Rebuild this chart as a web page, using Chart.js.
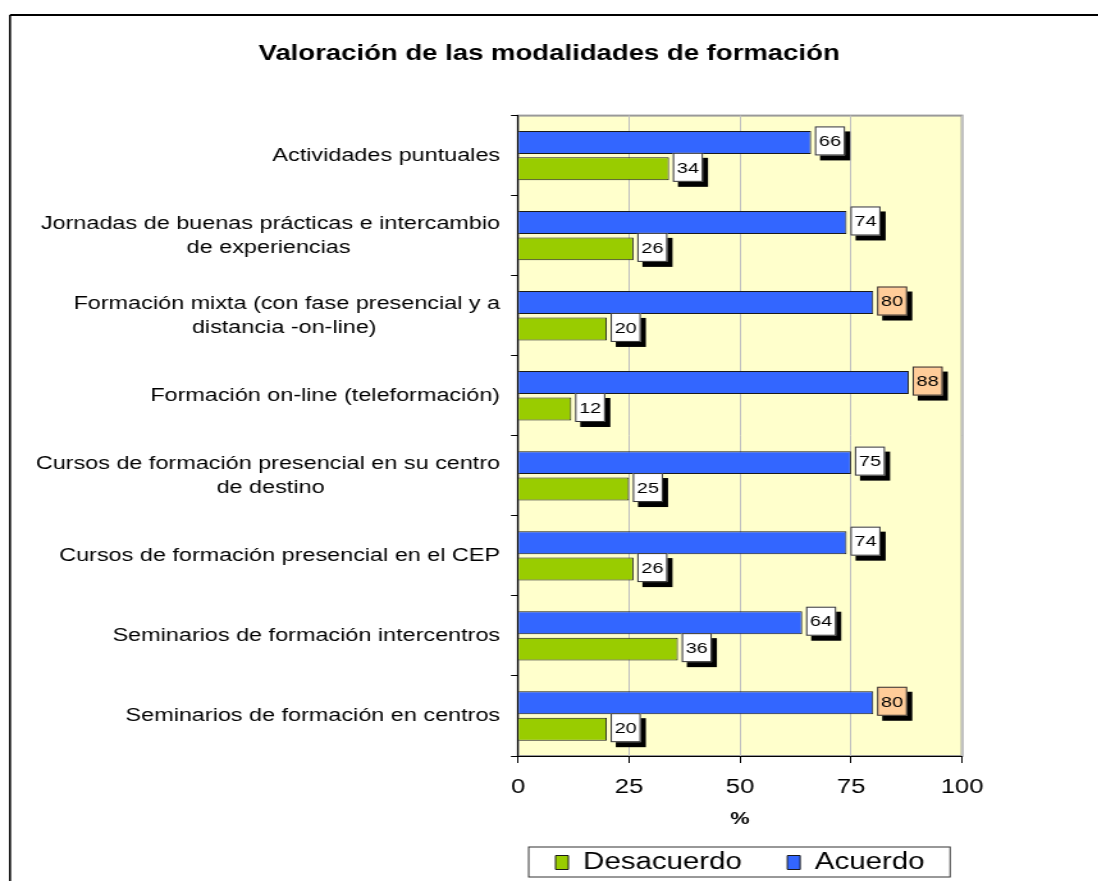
<!DOCTYPE html>
<html lang="es">
<head>
    <meta charset="UTF-8">
    <title>Valoración de las modalidades de formación</title>
    <script src="https://cdn.jsdelivr.net/npm/chart.js"></script>
    <style>
        html, body {
            margin: 0;
            background: #ffffff;
            overflow: hidden;
        }
        /* the original picture is stretched sideways, so the chart is drawn narrow and widened */
        .chart-wrap {
            position: absolute;
            left: 0;
            top: 0;
            width: 858px;
            height: 881px;
            transform: scaleX(1.28);
            transform-origin: 0 0;
        }
    </style>
</head>
<body>
    <div class="chart-wrap">
        <canvas id="modalidadesChart"></canvas>
    </div>

    <script>
        // Categories, top to bottom (each entry = lines of the label)
        const categories = [
            ['Actividades puntuales'],
            ['Jornadas de buenas prácticas e intercambio', 'de experiencias'],
            ['Formación mixta (con fase presencial y a', 'distancia -on-line)'],
            ['Formación on-line (teleformación)'],
            ['Cursos de formación presencial en su centro', 'de destino'],
            ['Cursos de formación presencial en el CEP'],
            ['Seminarios de formación intercentros'],
            ['Seminarios de formación en centros']
        ];
        const acuerdo = [66, 74, 80, 88, 75, 74, 64, 80];
        const desacuerdo = [34, 26, 20, 12, 25, 26, 36, 20];
        const xTicks = [0, 25, 50, 75, 100];

        const FONT = '"Liberation Sans", Arial, sans-serif';
        const LABEL_SIZE = 18.3;

        // centre shorter lines under the widest one (labels are right aligned as a block)
        const measure = document.createElement('canvas').getContext('2d');
        measure.font = LABEL_SIZE + 'px ' + FONT;
        const nbspW = measure.measureText('\u00A0').width;
        function centerLines(lines) {
            const widths = lines.map(l => measure.measureText(l).width);
            const max = Math.max(...widths);
            return lines.map((l, i) => l + '\u00A0'.repeat(Math.round((max - widths[i]) / 2 / nbspW)));
        }

        // page frame + yellow plot background
        const backgroundPlugin = {
            id: 'background',
            beforeDraw(chart) {
                const {ctx, chartArea: a} = chart;
                ctx.save();
                ctx.fillStyle = '#FFFFCC';
                ctx.fillRect(a.left, a.top, a.right - a.left, a.bottom - a.top);
                ctx.strokeStyle = '#999999';
                ctx.lineWidth = 2;
                ctx.strokeRect(a.left, a.top, a.right - a.left, a.bottom - a.top);
                ctx.strokeStyle = '#000000';
                ctx.lineWidth = 2;
                ctx.beginPath();
                ctx.moveTo(7.8, 15);
                ctx.lineTo(chart.width + 10, 15);
                ctx.stroke();
                ctx.lineWidth = 1.6;
                ctx.beginPath();
                ctx.moveTo(7.8, 15);
                ctx.lineTo(7.8, chart.height + 10);
                ctx.stroke();
                ctx.restore();
            }
        };

        // value boxes with drop shadow at the end of each bar
        const valueLabelPlugin = {
            id: 'valueLabels',
            afterDatasetsDraw(chart) {
                const {ctx} = chart;
                ctx.save();
                chart.data.datasets.forEach((ds, di) => {
                    chart.getDatasetMeta(di).data.forEach((bar, i) => {
                        const v = ds.data[i];
                        const w = 23.5, h = 29;
                        const left = bar.x + 3;
                        const top = bar.y - h / 2 - 1.5;
                        ctx.fillStyle = '#000000';
                        ctx.fillRect(left + 4, top + 5, w, h);
                        ctx.fillStyle = v >= 80 ? '#FFCC99' : '#FFFFFF';
                        ctx.fillRect(left, top, w, h);
                        ctx.strokeStyle = '#333333';
                        ctx.lineWidth = 1;
                        ctx.strokeRect(left + 0.5, top + 0.5, w - 1, h - 1);
                        ctx.fillStyle = '#000000';
                        ctx.font = '15.5px ' + FONT;
                        ctx.textAlign = 'center';
                        ctx.textBaseline = 'middle';
                        ctx.fillText(String(v), left + w / 2, top + h / 2 + 1);
                    });
                });
                ctx.restore();
            }
        };

        // frame around the legend
        const legendBoxPlugin = {
            id: 'legendBox',
            afterDraw(chart) {
                const boxes = chart.legend && chart.legend.legendHitBoxes;
                if (!boxes || !boxes.length) return;
                const first = boxes[0], last = boxes[boxes.length - 1];
                const {ctx} = chart;
                ctx.save();
                ctx.strokeStyle = '#333333';
                ctx.lineWidth = 1;
                const l = first.left - 21, r = last.left + last.width + 20;
                ctx.strokeRect(l, first.top - 4, r - l, 30);
                ctx.restore();
            }
        };

        const ctx = document.getElementById('modalidadesChart').getContext('2d');
        new Chart(ctx, {
            type: 'bar',
            data: {
                labels: categories,
                datasets: [
                    {
                        label: 'Acuerdo',
                        data: acuerdo,
                        backgroundColor: '#3366FF',
                        borderColor: '#1a1a1a',
                        borderWidth: 1,
                        categoryPercentage: 0.66,
                        barPercentage: 0.87
                    },
                    {
                        label: 'Desacuerdo',
                        data: desacuerdo,
                        backgroundColor: '#99CC00',
                        borderColor: '#1a1a1a',
                        borderWidth: 1,
                        categoryPercentage: 0.66,
                        barPercentage: 0.87
                    }
                ]
            },
            options: {
                indexAxis: 'y',
                responsive: true,
                maintainAspectRatio: false,
                animation: false,
                layout: {
                    padding: {left: 0, right: 0, top: 0, bottom: -3}
                },
                scales: {
                    x: {
                        min: 0,
                        max: 100,
                        afterBuildTicks(scale) {
                            scale.ticks = xTicks.map(v => ({value: v}));
                        },
                        afterFit(scale) {
                            scale.height = 85;
                        },
                        grid: {
                            color: '#C0C0C0',
                            tickColor: '#000000',
                            tickLength: 7
                        },
                        border: {color: '#000000', width: 1},
                        ticks: {
                            color: '#000000',
                            padding: 12,
                            font: {family: FONT, size: 20}
                        },
                        title: {
                            display: true,
                            text: '%',
                            color: '#000000',
                            padding: {top: 11, bottom: 11},
                            font: {family: FONT, size: 17, weight: 'bold'}
                        }
                    },
                    y: {
                        afterFit(scale) {
                            scale.width = 404.7;
                        },
                        grid: {
                            drawOnChartArea: false,
                            tickColor: '#000000',
                            tickLength: 5.5
                        },
                        border: {color: '#000000', width: 1},
                        ticks: {
                            color: '#000000',
                            padding: 8.5,
                            font: {family: FONT, size: LABEL_SIZE, lineHeight: 1.3},
                            callback(value, index) {
                                return centerLines(categories[index]);
                            }
                        }
                    },
                    // empty space on the right of the plot, so the title stays centred on the page
                    yRight: {
                        position: 'right',
                        afterFit(scale) {
                            scale.width = 106.4;
                        },
                        grid: {display: false},
                        border: {display: false},
                        ticks: {display: false}
                    }
                },
                plugins: {
                    title: {
                        display: true,
                        text: 'Valoración de las modalidades de formación',
                        color: '#000000',
                        padding: {top: 41.4, bottom: 48.4},
                        font: {family: FONT, size: 21.5, weight: 'bold'}
                    },
                    legend: {
                        position: 'bottom',
                        fullSize: false,
                        labels: {
                            color: '#000000',
                            boxWidth: 10,
                            boxHeight: 14,
                            padding: 10,
                            font: {family: FONT, size: 23},
                            generateLabels(chart) {
                                const items = Chart.defaults.plugins.legend.labels.generateLabels(chart).reverse();
                                items[0].text = items[0].text + '\u00A0'.repeat(4);
                                return items;
                            }
                        }
                    },
                    tooltip: {enabled: false}
                }
            },
            plugins: [backgroundPlugin, valueLabelPlugin, legendBoxPlugin]
        });
    </script>
</body>
</html>
